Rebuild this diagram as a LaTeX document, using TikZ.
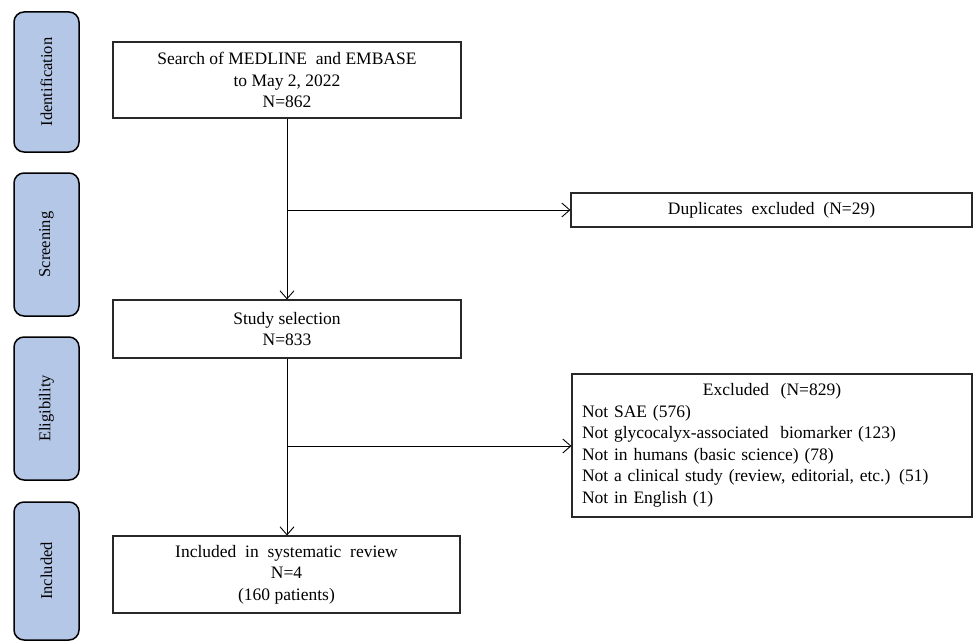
\documentclass[tikz,border=0pt]{standalone}
\usepackage{fontspec}
\setmainfont{Liberation Serif}
\usetikzlibrary{arrows.meta}
\definecolor{phase}{RGB}{180,199,231}
\definecolor{edge}{RGB}{40,40,40}
\begin{document}
\begin{tikzpicture}[x=1pt,y=-1pt,
  phasebox/.style={draw=black, line width=1.5pt, fill=phase, rounded corners=10pt,
    minimum height=65pt, inner sep=0pt, rotate=90,
    font=\fontsize{16.5}{19}\selectfont},
  flowbox/.style={draw=edge, line width=1.1pt, inner sep=0pt, align=center,
    font=\fontsize{17.5}{21.5}\selectfont},
  arr/.style={draw=black, line width=0.9pt, -{Straight Barb[length=8pt,width=14pt]}},
  ln/.style={draw=black, line width=0.9pt}]
\useasboundingbox (0,0) rectangle (973,642);
% phase labels
\node[phasebox, minimum width=140pt] (pid) at (46.5,82) {Identification};
\node[phasebox, minimum width=143pt] (psc) at (46.5,244.5) {Screening};
\node[phasebox, minimum width=143pt] (pel) at (46.5,408.5) {Eligibility};
\node[phasebox, minimum width=138pt] (pin) at (46.5,571) {Included};
% flow boxes
\node[flowbox, minimum width=348pt, minimum height=76pt] (search) at (287,80)
  {Search of MEDLINE \ and EMBASE\\to May 2, 2022\\N=862};
\node[flowbox, minimum width=401pt, minimum height=34pt] (dup) at (771.5,210)
  {Duplicates \ excluded \ (N=29)};
\node[flowbox, minimum width=348pt, minimum height=58pt] (sel) at (287,329)
  {Study selection\\N=833};
\node[flowbox, minimum width=400pt, minimum height=143pt, text width=380pt, align=left] (exc) at (772,445.5)
  {{\centering Excluded \ (N=829)\par}Not SAE (576)\\Not glycocalyx-associated \ biomarker (123)\\Not in humans (basic science) (78)\\Not a clinical study (review, editorial, etc.) (51)\\Not in English (1)};
\node[flowbox, minimum width=347pt, minimum height=77pt] (inc) at (286.5,574.5)
  {Included \ in \ systematic \ review\\N=4\\(160 patients)};
% connectors
\coordinate (b1) at (287,210);
\coordinate (b2) at (287,446);
\draw[arr] (search.south) -- (sel.north);
\draw[arr] (b1) -- (dup.west);
\draw[arr] (sel.south) -- (sel.south |- inc.north);
\draw[arr] (b2) -- (exc.west |- b2);
\end{tikzpicture}
\end{document}
